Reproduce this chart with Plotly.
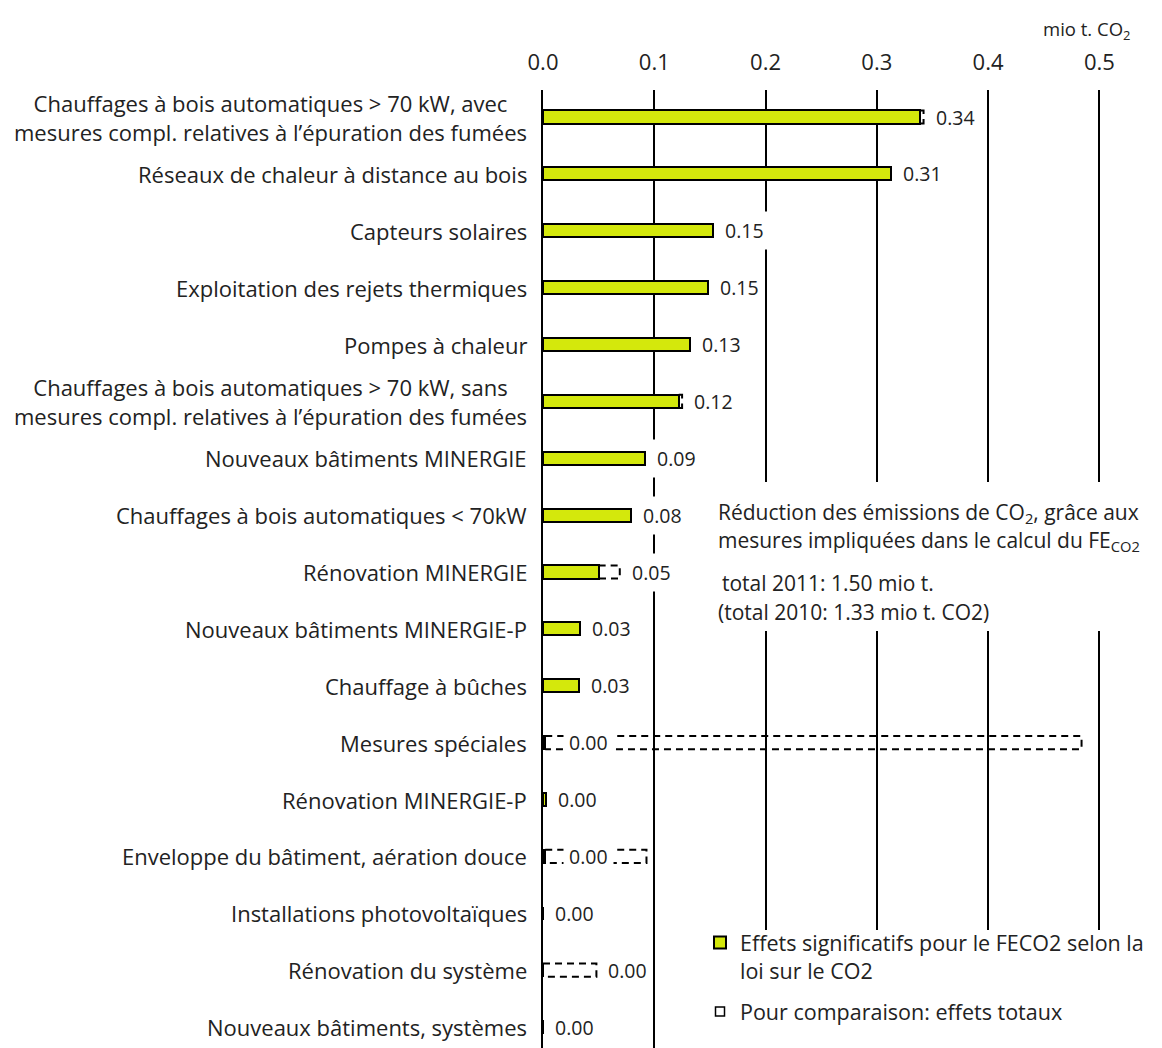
import plotly.graph_objects as go

# Measures, top to bottom
categories = [
    "Chauffages à bois automatiques > 70 kW, avec<br>mesures compl. relatives à l’épuration des fumées",
    "Réseaux de chaleur à distance au bois",
    "Capteurs solaires",
    "Exploitation des rejets thermiques",
    "Pompes à chaleur",
    "Chauffages à bois automatiques > 70 kW, sans<br>mesures compl. relatives à l’épuration des fumées",
    "Nouveaux bâtiments MINERGIE",
    "Chauffages à bois automatiques < 70kW",
    "Rénovation MINERGIE",
    "Nouveaux bâtiments MINERGIE-P",
    "Chauffage à bûches",
    "Mesures spéciales",
    "Rénovation MINERGIE-P",
    "Enveloppe du bâtiment, aération douce",
    "Installations photovoltaïques",
    "Rénovation du système",
    "Nouveaux bâtiments, systèmes",
]
# significant effects for the CO2 levy (mio t. CO2)
significant = [0.339, 0.313, 0.153, 0.148, 0.132, 0.122, 0.092, 0.079, 0.050,
               0.033, 0.032, 0.002, 0.003, 0.002, 0.0, 0.0, 0.0]
# total effects, for comparison (mio t. CO2)
total = [0.342, 0.313, 0.153, 0.148, 0.132, 0.125, 0.092, 0.079, 0.069,
         0.033, 0.032, 0.484, 0.003, 0.093, 0.0, 0.048, 0.0]
x_ticks = [0.0, 0.1, 0.2, 0.3, 0.4, 0.5]

GREEN = "#d4e80c"
TEXT = "#222"
FONT = "Open Sans"
W, H = 1162, 1048
ML, MR, MT, MB = 543, 7, 90, 0
PW, PH = W - ML - MR, H - MT - MB
BAR_HALF = 0.115


def px_x(px):
    return (px - ML) / PW


def px_y(py):
    return (H - MB - py) / PH


n = len(categories)
ys = list(range(n))

fig = go.Figure()

fig.add_trace(go.Bar(
    y=ys, x=significant, orientation="h", width=2 * BAR_HALF,
    marker=dict(color=GREEN, line=dict(color="black", width=2)),
    name="Effets significatifs pour le FECO2 selon la<br>loi sur le CO2",
    legendgroup="sig", hoverinfo="x+y",
))

# dashed outlines for the part of the total effects beyond the significant bar
ox, oy = [], []
for i, (g, t) in enumerate(zip(significant, total)):
    if t > g:
        lo, hi = i - BAR_HALF, i + BAR_HALF
        ox += [g, t, t, g, None]
        oy += [lo, lo, hi, hi, None]
fig.add_trace(go.Scatter(
    x=ox, y=oy, mode="lines", showlegend=False, hoverinfo="skip",
    line=dict(color="black", width=2, dash="7px,5px"),
))
fig.add_trace(go.Scatter(
    x=[None], y=[None], mode="markers",
    marker=dict(symbol="square-open", size=9, color="black", line=dict(width=1.5)),
    name="Pour comparaison: effets totaux", legendgroup="tot",
))

annotations = []
# category labels: centred lines, block right-aligned next to the axis
for i, c in enumerate(categories):
    annotations.append(dict(
        x=0, xref="paper", y=i, yref="y", text=c, showarrow=False,
        xanchor="right", yanchor="middle", align="center", xshift=-14,
        font=dict(family=FONT, size=22, color=TEXT),
    ))

# value labels on white boxes
PAD = 5
for i, (g, t) in enumerate(zip(significant, total)):
    if t - g < 0.08:
        anchor, gap = max(g, t), 12
    else:
        anchor, gap = g, 24
    annotations.append(dict(
        x=anchor, xref="x", y=i, yref="y", text=f"{g:.2f}", showarrow=False,
        xanchor="left", yanchor="middle", xshift=gap - PAD - 1,
        bgcolor="white", borderpad=PAD,
        font=dict(family=FONT, size=19.5, color=TEXT),
    ))

note_font = dict(family=FONT, size=21, color=TEXT)
annotations += [
    dict(x=px_x(1132), y=px_y(30), xref="paper", yref="paper",
         text="mio t. CO<sub>2</sub>", showarrow=False, xanchor="right", yanchor="middle",
         font=dict(family=FONT, size=18.5, color=TEXT)),
    dict(x=px_x(716), y=px_y(513), xref="paper", yref="paper",
         text="Réduction des émissions de CO<sub>2</sub>, grâce aux",
         showarrow=False, xanchor="left", yanchor="middle", font=note_font),
    dict(x=px_x(716), y=px_y(541), xref="paper", yref="paper",
         text="mesures impliquées dans le calcul du FE<sub>CO2</sub>",
         showarrow=False, xanchor="left", yanchor="middle", font=note_font),
    dict(x=px_x(720), y=px_y(583), xref="paper", yref="paper",
         text="total 2011: 1.50 mio t.", showarrow=False, xanchor="left", yanchor="middle",
         font=note_font),
    dict(x=px_x(716), y=px_y(612), xref="paper", yref="paper",
         text="(total 2010: 1.33 mio t. CO2)", showarrow=False, xanchor="left", yanchor="middle",
         font=note_font),
]

# white panels behind the note and the legend
shapes = [
    dict(type="rect", xref="paper", yref="paper", layer="above",
         x0=px_x(705), x1=px_x(1170), y0=px_y(482), y1=px_y(631),
         fillcolor="white", line=dict(width=0)),
    dict(type="rect", xref="paper", yref="paper", layer="above",
         x0=px_x(705), x1=px_x(1170), y0=px_y(930), y1=px_y(1060),
         fillcolor="white", line=dict(width=0)),
]

fig.update_layout(
    width=W, height=H,
    margin=dict(l=ML, r=MR, t=MT, b=MB, pad=0),
    paper_bgcolor="white", plot_bgcolor="white",
    bargap=0, barmode="overlay",
    font=dict(family=FONT, size=18, color=TEXT),
    xaxis=dict(
        side="top", range=[0, 0.55], tickvals=x_ticks,
        ticktext=[f"{v:.1f}" for v in x_ticks],
        showgrid=True, gridcolor="black", gridwidth=2, zeroline=False,
        showline=False, ticks="", ticklabelstandoff=15,
        tickfont=dict(family=FONT, size=22, color=TEXT), fixedrange=True,
    ),
    yaxis=dict(
        range=[(H - MB - 117) / 56.875, -27 / 56.875], showticklabels=False,
        showgrid=False, zeroline=False, showline=True, linecolor="black", linewidth=2,
        ticks="", fixedrange=True,
    ),
    legend=dict(
        x=px_x(700), y=px_y(922), xanchor="left", yanchor="top",
        bgcolor="rgba(0,0,0,0)", borderwidth=0, itemwidth=30,
        font=dict(family=FONT, size=21.5, color=TEXT), valign="top",
        traceorder="grouped", tracegroupgap=10, itemclick=False,
    ),
    showlegend=True,
    annotations=annotations,
    shapes=shapes,
)

fig.write_html("out.html")
